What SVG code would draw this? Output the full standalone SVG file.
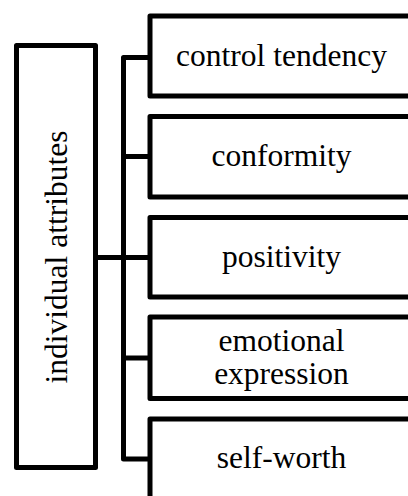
<svg xmlns="http://www.w3.org/2000/svg" width="408" height="496" viewBox="0 0 408 496">
  <style>
    .box { fill: #fff; stroke: #000; stroke-width: 5; stroke-linejoin: round; }
    .wire { fill: none; stroke: #000; stroke-width: 5; stroke-linejoin: round; }
    .lbl { font-family: "Liberation Serif", "Times New Roman", serif; font-size: 31.5px; fill: #000; text-anchor: middle; }
  </style>
  <rect width="408" height="496" fill="#fff"/>

  <!-- connectors: trunk from the root box and one branch per attribute -->
  <g id="connectors">
    <path class="wire" d="M95.5 257.5 H150"/>
    <path class="wire" d="M150 57.5 H123.5 V459 H150"/>
    <path class="wire" d="M123.5 156.5 H150"/>
    <path class="wire" d="M123.5 358 H150"/>
  </g>

  <g id="root">
    <rect class="box" x="16.5" y="45.5" width="79" height="422"/>
    <text class="lbl" transform="translate(66.5 257) rotate(-90)" x="0" y="0">individual attributes</text>
  </g>

  <g id="control-tendency">
    <rect class="box" x="150" y="16" width="263" height="80"/>
    <text class="lbl" x="281.5" y="65.5">control tendency</text>
  </g>

  <g id="conformity">
    <rect class="box" x="150" y="116.5" width="263" height="80.5"/>
    <text class="lbl" x="281.5" y="166">conformity</text>
  </g>

  <g id="positivity">
    <rect class="box" x="150" y="217.5" width="263" height="79.5"/>
    <text class="lbl" x="281.5" y="267">positivity</text>
  </g>

  <g id="emotional-expression">
    <rect class="box" x="150" y="317" width="263" height="81.5"/>
    <text class="lbl" x="281.5" y="351">emotional</text>
    <text class="lbl" x="281.5" y="384">expression</text>
  </g>

  <g id="self-worth">
    <rect class="box" x="150" y="419" width="263" height="90"/>
    <text class="lbl" x="281.5" y="468">self-worth</text>
  </g>
</svg>
